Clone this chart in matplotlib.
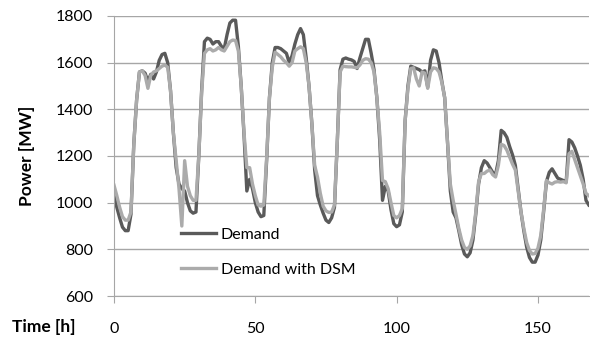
import numpy as np
import matplotlib.pyplot as plt

plt.rcParams['font.family'] = ['Lato', 'DejaVu Sans']

# hourly values, hour 0..168
demand = [1030, 980, 935, 895, 880, 880, 950, 1250, 1440, 1560,
          1565, 1555, 1520, 1550, 1530, 1560, 1610, 1635, 1640, 1600,
          1480, 1300, 1150, 1080, 1060, 1050, 1000, 965, 955, 960,
          1200, 1480, 1690, 1705, 1700, 1680, 1690, 1690, 1670, 1660,
          1720, 1770, 1782, 1782, 1670, 1500, 1290, 1050, 1100, 1060,
          1000, 960, 940, 945, 1180, 1450, 1600, 1665, 1665, 1660,
          1650, 1640, 1600, 1630, 1680, 1720, 1746, 1720, 1620, 1500,
          1340, 1140, 1030, 990, 955, 925, 915, 935, 980, 1260,
          1570, 1615, 1620, 1615, 1612, 1605, 1575, 1620, 1660, 1700,
          1700, 1640, 1570, 1450, 1270, 1010, 1070, 1050, 970, 910,
          897, 905, 960, 1350, 1500, 1585, 1580, 1575, 1570, 1560,
          1565, 1495, 1610, 1655, 1650, 1600, 1520, 1450, 1260, 1050,
          960, 935, 880, 820, 780, 768, 785, 840, 950, 1080,
          1150, 1180, 1170, 1150, 1130, 1120, 1180, 1310, 1300, 1280,
          1240, 1205, 1160, 1060, 960, 880, 810, 765, 745, 745,
          775, 840, 960, 1090, 1130, 1145, 1125, 1105, 1100, 1095,
          1090, 1270, 1260, 1235, 1200, 1160, 1100, 1010, 990]

demand_dsm = [1075, 1030, 980, 940, 925, 925, 960, 1250, 1440, 1560,
              1565, 1545, 1490, 1545, 1560, 1565, 1575, 1585, 1590, 1580,
              1480, 1300, 1180, 1060, 900, 1180, 1070, 1030, 1010, 1010,
              1200, 1470, 1640, 1655, 1660, 1650, 1655, 1665, 1655, 1650,
              1670, 1690, 1697, 1695, 1650, 1500, 1300, 1150, 1150, 1080,
              1030, 990, 985, 990, 1190, 1450, 1580, 1645, 1635, 1625,
              1610, 1600, 1585, 1600, 1650, 1660, 1668, 1660, 1600, 1500,
              1340, 1160, 1110, 1040, 985, 965, 958, 960, 990, 1260,
              1560, 1585, 1583, 1582, 1582, 1580, 1578, 1590, 1610, 1617,
              1615, 1600, 1560, 1450, 1300, 1095, 1090, 1060, 1000, 945,
              935, 945, 975, 1350, 1490, 1575, 1578, 1530, 1500, 1560,
              1555, 1490, 1560, 1578, 1575, 1560, 1515, 1450, 1260, 1080,
              1010, 950, 890, 840, 808, 800, 815, 860, 960, 1090,
              1125, 1125, 1135, 1140, 1120, 1110, 1160, 1250, 1245, 1225,
              1195, 1165, 1140, 1050, 960, 890, 830, 795, 780, 782,
              805, 860, 970, 1095, 1085, 1080, 1088, 1090, 1088, 1090,
              1085, 1210, 1220, 1185, 1150, 1115, 1080, 1040, 1030]

hours = np.arange(len(demand))
xticks = [0, 50, 100, 150]
yticks = [600, 800, 1000, 1200, 1400, 1600, 1800]

fig = plt.figure(figsize=(5.9, 3.45), dpi=100)
ax = fig.add_axes([114/590, 1 - 296/345, 1 - 114/590 - 0.002, (296 - 16)/345])

ax.plot(hours, demand, color='#5a5a5a', lw=2.4, label='Demand', solid_joinstyle='round')
ax.plot(hours, demand_dsm, color='#ababab', lw=2.4, label='Demand with DSM', solid_joinstyle='round')

ax.set_xlim(0, 168)
ax.set_ylim(600, 1800)
ax.set_xticks(xticks)
ax.set_yticks(yticks)
ax.grid(axis='y', color='#a6a6a6', lw=1)
ax.set_axisbelow(True)
for s in ['top', 'right']:
    ax.spines[s].set_visible(False)
for s in ['left', 'bottom']:
    ax.spines[s].set_color('#a6a6a6')
ax.tick_params(axis='both', colors='#a6a6a6', labelcolor='black', labelsize=11.5, length=5)
ax.tick_params(axis='x', pad=14)
ax.tick_params(axis='y', pad=10)

ax.set_ylabel('Power [MW]', fontsize=12.5, fontweight='bold', labelpad=15)
fig.text(12/590, 1 - 327/345, 'Time [h]', fontsize=12.5, fontweight='bold', va='center')

ax.legend(loc='center left', bbox_to_anchor=(181/590, 1 - 252/345), bbox_transform=fig.transFigure,
          frameon=False, fontsize=11.5, handlelength=2.2, handletextpad=0.3, labelspacing=1.3,
          borderpad=0, borderaxespad=0)

fig.savefig('out.png', dpi=100)
